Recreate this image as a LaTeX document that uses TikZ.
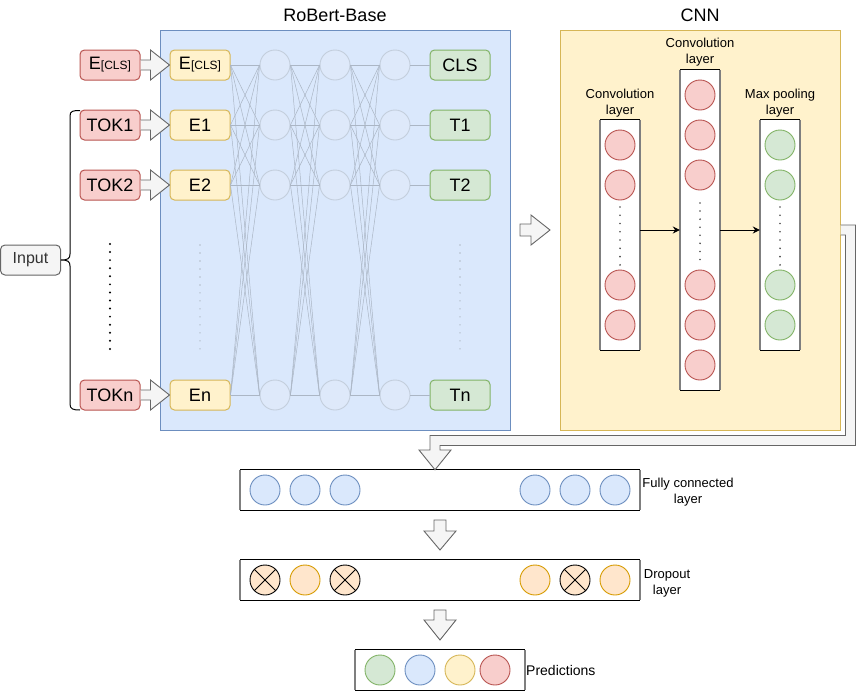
\documentclass[tikz,border=0pt]{standalone}
\usepackage{fontspec}
\setmainfont{Liberation Sans}
\usetikzlibrary{calc,arrows.meta}
\definecolor{redF}{HTML}{F8CECC}\definecolor{redD}{HTML}{B85450}
\definecolor{yelF}{HTML}{FFF2CC}\definecolor{yelD}{HTML}{D6B656}
\definecolor{grnF}{HTML}{D5E8D4}\definecolor{grnD}{HTML}{82B366}
\definecolor{bluF}{HTML}{DAE8FC}\definecolor{bluD}{HTML}{6C8EBF}
\definecolor{gryF}{HTML}{F5F5F5}\definecolor{gryD}{HTML}{666666}
\definecolor{orgF}{HTML}{FFE6CC}\definecolor{orgD}{HTML}{D79B00}
\definecolor{netC}{HTML}{DEE9FA}\definecolor{netD}{HTML}{C3CEDC}
\definecolor{netL}{HTML}{ABB6C5}
\definecolor{dotL}{HTML}{B3BDC9}
\definecolor{sideG}{HTML}{7F7F7F}
\definecolor{txtG}{HTML}{333333}
\tikzset{
  tok/.style={rectangle, rounded corners=4.5pt, minimum width=60pt, minimum height=30pt, inner sep=0pt, font=\fontsize{18}{21}\selectfont, line width=1pt},
  redbox/.style={tok, fill=redF, draw=redD},
  yelbox/.style={tok, fill=yelF, draw=yelD},
  grnbox/.style={tok, fill=grnF, draw=grnD},
  neuron/.style={circle, minimum size=30pt, inner sep=0pt, line width=0.9pt},
  netcirc/.style={neuron, fill=netC, draw=netD},
  rcirc/.style={neuron, fill=redF, draw=redD},
  gcirc/.style={neuron, fill=grnF, draw=grnD},
  bcirc/.style={neuron, fill=bluF, draw=bluD},
  ycirc/.style={neuron, fill=yelF, draw=yelD},
  ocirc/.style={neuron, fill=orgF, draw=orgD},
  xcirc/.style={neuron, fill=orgF, draw=black},
  netline/.style={draw=netL, line width=0.5pt},
  blockarr/.style={fill=gryF, draw=gryD, line width=0.9pt, line join=miter},
  lbl/.style={font=\fontsize{13}{16}\selectfont, align=center, inner sep=0pt},
  ttl/.style={font=\fontsize{18}{22}\selectfont, inner sep=0pt},
  layerbox/.style={rectangle, fill=white, inner sep=0pt},
  sideline/.style={draw=sideG, line width=2pt},
  capline/.style={draw=black, line width=1.2pt},
  cnndots/.style={draw=black!70, line width=1.8pt, line cap=round},
  cnnarrow/.style={draw=black, line width=0.9pt, -{Stealth[length=7pt,width=7pt]}}
}
\newcommand\hblock[2]{\draw[blockarr] ($(#1)+(0,-5)$) -- ($(#2)+(-19,-5)$) -- ($(#2)+(-19,-15)$) -- (#2) -- ($(#2)+(-19,15)$) -- ($(#2)+(-19,5)$) -- ($(#1)+(0,5)$);}
\newcommand\layersides[1]{%
  \draw[capline] (#1.north west) -- (#1.north east) (#1.south west) -- (#1.south east);
  \draw[sideline] (#1.north west) -- (#1.south west) (#1.north east) -- (#1.south east);}
\begin{document}
\begin{tikzpicture}[x=1pt, y=-1pt]
\useasboundingbox (0,0) rectangle (856,691);

% ---------- RoBERTa container ----------
\node[draw=bluD, fill=bluF, line width=1pt, minimum width=350pt, minimum height=400pt, inner sep=0pt] (rob) at (335,230) {};
\node[ttl] (robt) at (335,15) {RoBert-Base};
% ---------- CNN container ----------
\node[draw=yelD, fill=yelF, line width=1pt, minimum width=280pt, minimum height=400pt, inner sep=0pt] (cnn) at (700,230) {};
\node[ttl] (cnnt) at (700,15) {CNN};

% ---------- tokens ----------
\node[redbox] (t0) at (110,65) {E{\fontsize{12}{14}\selectfont[CLS]}};
\node[redbox] (t1) at (110,125) {TOK1};
\node[redbox] (t2) at (110,185) {TOK2};
\node[redbox] (t3) at (110,395) {TOKn};

\node[yelbox] (e0) at (200,65) {E{\fontsize{12}{14}\selectfont[CLS]}};
\node[yelbox] (e1) at (200,125) {E1};
\node[yelbox] (e2) at (200,185) {E2};
\node[yelbox] (e3) at (200,395) {En};

\node[grnbox] (o0) at (460,65) {CLS};
\node[grnbox] (o1) at (460,125) {T1};
\node[grnbox] (o2) at (460,185) {T2};
\node[grnbox] (o3) at (460,395) {Tn};

\foreach \c/\x in {1/275,2/335,3/395}{
  \foreach \r/\y in {0/65,1/125,2/185,3/395}{
    \node[netcirc] (c\c-\r) at (\x,\y) {};
  }
}
\foreach \i in {0,...,3}{
  \foreach \j in {0,...,3}{
    \draw[netline] (e\i.east) -- (c1-\j.west);
    \draw[netline] (c1-\i.east) -- (c2-\j.west);
    \draw[netline] (c2-\i.east) -- (c3-\j.west);
  }
  \draw[netline] (c3-\i.east) -- (o\i.west);
  \hblock{t\i.east}{e\i.west}
}
% dotted continuations
\draw[dotL, line width=1.6pt, line cap=round, dash pattern=on 0pt off 7.99pt] (200,245) -- (200,349);
\draw[dotL, line width=1.6pt, line cap=round, dash pattern=on 0pt off 7.99pt] (460,245) -- (460,349);
\draw[black, line width=2.2pt, line cap=round, dash pattern=on 0pt off 8.07pt] (110,244) -- (110,349);

% ---------- Input + brace ----------
\node[tok, fill=gryF, draw=gryD, text=txtG, font=\fontsize{16}{19}\selectfont] (inp) at (30.5,260) {Input};
\draw[black, line width=1pt] (80,110.5) .. controls (73,110.5) and (70,111) .. (70,116) -- (70,254) .. controls (70,258.5) and (68,260) .. (inp.east) .. controls (68,260) and (70,261.5) .. (70,266) -- (70,404) .. controls (70,409) and (73,410) .. (80,410);

% ---------- arrow RoBERTa -> CNN ----------
\draw[blockarr] (520,224) -- (531,224) -- (531,215) -- (550,230) -- (531,245) -- (531,236) -- (520,236) -- cycle;

% ---------- CNN columns ----------
\node[layerbox, minimum width=40pt, minimum height=230pt] (colA) at (620,235) {};
\node[layerbox, minimum width=40pt, minimum height=320pt] (colB) at (700,230) {};
\node[layerbox, minimum width=40pt, minimum height=230pt] (colC) at (780,235) {};
\layersides{colA}\layersides{colB}\layersides{colC}
\node[lbl] (la) at (620,103) {Convolution\\layer};
\node[lbl] (lb) at (700,52) {Convolution\\layer};
\node[lbl] (lc) at (780,103) {Max pooling\\layer};
\foreach \y [count=\k] in {145,185,285,325}{
  \node[rcirc] (a\k) at (620,\y) {};
  \node[gcirc] (m\k) at (780,\y) {};
}
\foreach \y [count=\k] in {95,135,175,285,325,365}{
  \node[rcirc] (b\k) at (700,\y) {};
}
\draw[cnndots, dash pattern=on 0pt off 8.27pt] (620,207) -- (620,265);
\draw[cnndots, dash pattern=on 0pt off 8.07pt] (700,203) -- (700,259.6);
\draw[cnndots, dash pattern=on 0pt off 8.27pt] (780,207) -- (780,265);
\draw[cnnarrow] ($(colA.east)+(0,-5)$) -- (colB.west);
\draw[cnnarrow] (colB.east) -- ($(colC.west)+(0,-5)$);

% ---------- bottom layers ----------
\node[layerbox, minimum width=400pt, minimum height=40pt] (fc) at (440,490) {};
\node[layerbox, minimum width=400pt, minimum height=40pt] (dp) at (440,580) {};
\node[layerbox, minimum width=170pt, minimum height=40pt] (pr) at (440,670) {};
\layersides{fc}\layersides{dp}\layersides{pr}

% bent arrow CNN -> FC
\draw[blockarr] ($(cnn.east)+(0,-5)$) -- (855.5,225) -- (855.5,445.5) -- (440,445.5) -- (440,450) -- (451,450) -- ($(fc.north)+(-5,0)$) -- (419,450) -- (430,450) -- (430,435.5) -- (845.5,435.5) -- (845.5,235) -- ($(cnn.east)+(0,5)$);

\foreach \x [count=\k] in {265,305,345,535,575,615}{
  \node[bcirc] (f\k) at (\x,490) {};
}
\node[xcirc] (d1) at (265,580) {};
\node[ocirc] (d2) at (305,580) {};
\node[xcirc] (d3) at (345,580) {};
\node[ocirc] (d4) at (535,580) {};
\node[xcirc] (d5) at (575,580) {};
\node[ocirc] (d6) at (615,580) {};
\foreach \n in {d1,d3,d5}{
  \draw[black, line width=0.9pt] (\n.north west) -- (\n.south east) (\n.north east) -- (\n.south west);
}
\node[gcirc] (p1) at (380,670) {};
\node[bcirc] (p2) at (420,670) {};
\node[ycirc] (p3) at (460,670) {};
\node[rcirc] (p4) at (495,670) {};

\node[lbl] (lfc) at (688,492) {Fully connected\\layer};
\node[lbl] (ldp) at (667,583) {Dropout\\layer};
\node[lbl, anchor=west, font=\fontsize{14}{16}\selectfont] (lpr) at (526,670) {Predictions};

% down arrows
\draw[blockarr, shift={(440,520)}] (-6,0) -- (6,0) -- (6,11) -- (16,11) -- (0,30) -- (-16,11) -- (-6,11) -- cycle;
\draw[blockarr, shift={(440,610)}] (-6,0) -- (6,0) -- (6,10) -- (16,10) -- (0,30) -- (-16,10) -- (-6,10) -- cycle;
\end{tikzpicture}
\end{document}
